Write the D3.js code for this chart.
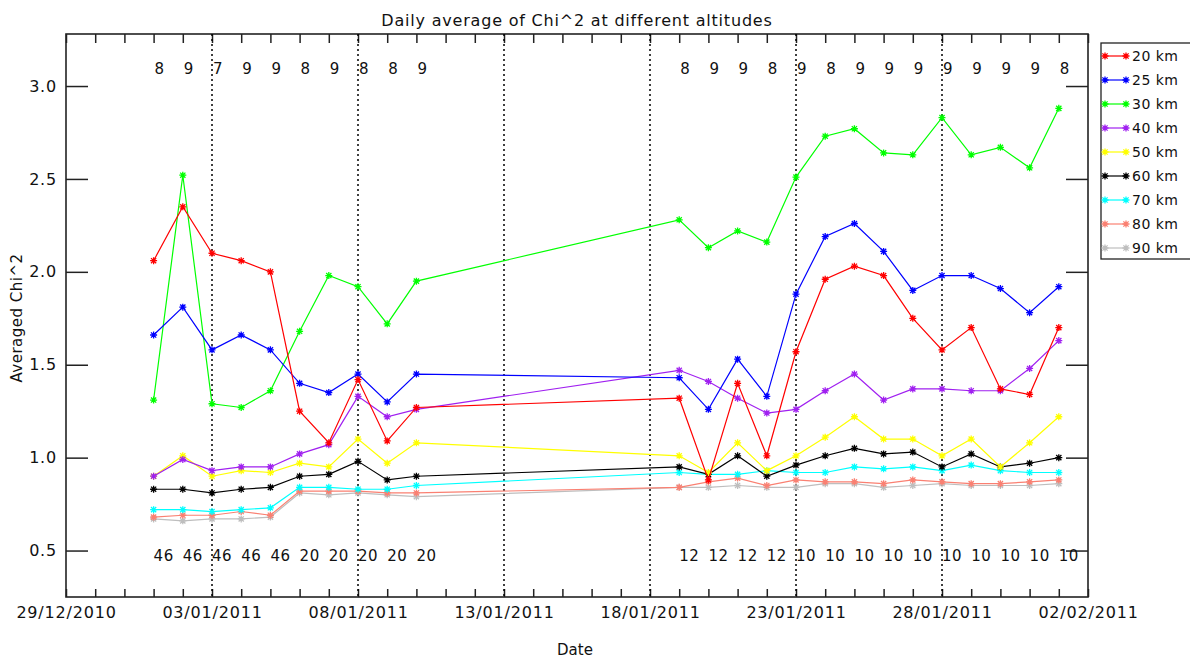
<!DOCTYPE html>
<meta charset="utf-8">
<style>
    body {
        margin: 0;
        background-color: #ffffff;
    }
    text {
        font-family: "DejaVu Sans", sans-serif;
        fill: #111;
    }
    .axis path.domain {
        display: none;
    }
    .axis line {
        stroke: #222;
        stroke-width: 1.5;
    }
    .axis text {
        font-size: 16px;
        letter-spacing: 0.8px;
    }
    path.series {
        fill: none;
        stroke-width: 1.2;
    }
    path.star {
        fill: none;
        stroke-width: 1.3;
    }
</style>
<body>
<script src="https://cdn.jsdelivr.net/npm/d3@7"></script>
<script>

    // observation days
    var dates = ["01/01/2011", "02/01/2011", "03/01/2011", "04/01/2011", "05/01/2011",
        "06/01/2011", "07/01/2011", "08/01/2011", "09/01/2011", "10/01/2011",
        "19/01/2011", "20/01/2011", "21/01/2011", "22/01/2011", "23/01/2011",
        "24/01/2011", "25/01/2011", "26/01/2011", "27/01/2011", "28/01/2011",
        "29/01/2011", "30/01/2011", "31/01/2011", "01/02/2011"];

    var altitudes = ["20 km", "25 km", "30 km", "40 km", "50 km", "60 km", "70 km", "80 km", "90 km"];
    var colors = ["#ff0000", "#0000ff", "#00ff00", "#a020f0", "#ffff00", "#000000", "#00ffff", "#fa8072", "#bebebe"];

    var chi20 = [2.06, 2.35, 2.10, 2.06, 2.00, 1.25, 1.08, 1.42, 1.09, 1.27, 1.32, 0.88, 1.40, 1.01, 1.57, 1.96, 2.03, 1.98, 1.75, 1.58, 1.70, 1.37, 1.34, 1.70];
    var chi25 = [1.66, 1.81, 1.58, 1.66, 1.58, 1.40, 1.35, 1.45, 1.30, 1.45, 1.43, 1.26, 1.53, 1.33, 1.88, 2.19, 2.26, 2.11, 1.90, 1.98, 1.98, 1.91, 1.78, 1.92];
    var chi30 = [1.31, 2.52, 1.29, 1.27, 1.36, 1.68, 1.98, 1.92, 1.72, 1.95, 2.28, 2.13, 2.22, 2.16, 2.51, 2.73, 2.77, 2.64, 2.63, 2.83, 2.63, 2.67, 2.56, 2.88];
    var chi40 = [0.90, 0.99, 0.93, 0.95, 0.95, 1.02, 1.07, 1.33, 1.22, 1.26, 1.47, 1.41, 1.32, 1.24, 1.26, 1.36, 1.45, 1.31, 1.37, 1.37, 1.36, 1.36, 1.48, 1.63];
    var chi50 = [0.90, 1.01, 0.90, 0.93, 0.92, 0.97, 0.95, 1.10, 0.97, 1.08, 1.01, 0.92, 1.08, 0.93, 1.01, 1.11, 1.22, 1.10, 1.10, 1.01, 1.10, 0.95, 1.08, 1.22];
    var chi60 = [0.83, 0.83, 0.81, 0.83, 0.84, 0.90, 0.91, 0.98, 0.88, 0.90, 0.95, 0.91, 1.01, 0.90, 0.96, 1.01, 1.05, 1.02, 1.03, 0.95, 1.02, 0.95, 0.97, 1.00];
    var chi70 = [0.72, 0.72, 0.71, 0.72, 0.73, 0.84, 0.84, 0.83, 0.83, 0.85, 0.92, 0.91, 0.91, 0.93, 0.92, 0.92, 0.95, 0.94, 0.95, 0.93, 0.96, 0.93, 0.92, 0.92];
    var chi80 = [0.68, 0.69, 0.69, 0.71, 0.69, 0.82, 0.82, 0.82, 0.81, 0.81, 0.84, 0.87, 0.89, 0.85, 0.88, 0.87, 0.87, 0.86, 0.88, 0.87, 0.86, 0.86, 0.87, 0.88];
    var chi90 = [0.67, 0.66, 0.67, 0.67, 0.68, 0.81, 0.80, 0.81, 0.80, 0.79, 0.84, 0.84, 0.85, 0.84, 0.84, 0.86, 0.86, 0.84, 0.85, 0.86, 0.85, 0.85, 0.85, 0.86];

    // numbers printed above and below each day
    var topCounts = [8, 9, 7, 9, 9, 8, 9, 8, 8, 9, 8, 9, 9, 8, 9, 8, 9, 9, 9, 9, 9, 9, 9, 8];
    var bottomCounts = [46, 46, 46, 46, 46, 20, 20, 20, 20, 20, 12, 12, 12, 12, 10, 10, 10, 10, 10, 10, 10, 10, 10, 10];

    var xTickLabels = ["29/12/2010", "03/01/2011", "08/01/2011", "13/01/2011", "18/01/2011", "23/01/2011", "28/01/2011", "02/02/2011"];
    var dottedDates = ["03/01/2011", "08/01/2011", "13/01/2011", "18/01/2011", "23/01/2011", "28/01/2011"];
    var yTicks = [0.5, 1.0, 1.5, 2.0, 2.5, 3.0];
    var yDomain = [0.25, 3.28];

    var series = [chi20, chi25, chi30, chi40, chi50, chi60, chi70, chi80, chi90];

    var parseDate = d3.timeParse("%d/%m/%Y");
    var days = dates.map(parseDate);

    var margin = {top: 34, left: 66},
            width = 1022,
            height = 563;

    var x = d3.scaleTime()
            .domain([parseDate(xTickLabels[0]), parseDate(xTickLabels[xTickLabels.length - 1])])
            .range([0, width]);

    var y = d3.scaleLinear()
            .domain(yDomain)
            .range([height, 0]);

    var svg = d3.select("body").append("svg")
            .attr("width", 1190)
            .attr("height", 660);

    var g = svg.append("g")
            .attr("transform", "translate(" + margin.left + "," + margin.top + ")");

    var dayTicks = d3.timeDay.range(x.domain()[0], d3.timeDay.offset(x.domain()[1], 1));
    var labelled = xTickLabels.map(function(s) { return +parseDate(s); });
    var fmt = d3.timeFormat("%d/%m/%Y");

    // axes
    g.append("g")
            .attr("class", "x axis")
            .attr("transform", "translate(0," + height + ")")
            .call(d3.axisBottom(x).tickValues(dayTicks).tickSizeInner(-8).tickSizeOuter(0).tickPadding(10)
                    .tickFormat(function(d) { return labelled.indexOf(+d) >= 0 ? fmt(d) : ""; }));

    g.append("g")
            .attr("class", "x axis")
            .call(d3.axisTop(x).tickValues(dayTicks).tickSizeInner(-9).tickSizeOuter(0).tickFormat(""));

    g.append("g")
            .attr("class", "y axis")
            .call(d3.axisLeft(y).tickValues(yTicks).tickSizeInner(-22).tickSizeOuter(0).tickPadding(9)
                    .tickFormat(d3.format(".1f")));

    g.append("g")
            .attr("class", "y axis")
            .attr("transform", "translate(" + width + ",0)")
            .call(d3.axisRight(y).tickValues(yTicks).tickSizeInner(-22).tickSizeOuter(0).tickFormat(""));

    g.append("rect")
            .attr("width", width)
            .attr("height", height)
            .attr("fill", "none")
            .attr("stroke", "#222")
            .attr("stroke-width", 1.6);

    // vertical dotted lines
    g.selectAll("line.dotted")
            .data(dottedDates.map(parseDate))
        .enter().append("line")
            .attr("class", "dotted")
            .attr("x1", function(d) { return x(d); })
            .attr("x2", function(d) { return x(d); })
            .attr("y1", 0)
            .attr("y2", height)
            .attr("stroke", "#000")
            .attr("stroke-width", 1.5)
            .attr("stroke-dasharray", "2,3");

    var line = d3.line()
            .x(function(d, i) { return x(days[i]); })
            .y(function(d) { return y(d); });

    var star = "M-3.5,0H3.5M0,-3.5V3.5M-2.6,-2.6L2.6,2.6M-2.6,2.6L2.6,-2.6";

    // draw from the highest altitude so that 20 km ends on top
    for (var k = series.length - 1; k >= 0; k--) {
        var s = g.append("g");
        s.append("path")
                .attr("class", "series")
                .attr("d", line(series[k]))
                .attr("stroke", colors[k]);
        s.selectAll("path.star")
                .data(series[k])
            .enter().append("path")
                .attr("class", "star")
                .attr("transform", function(d, i) { return "translate(" + x(days[i]) + "," + y(d) + ")"; })
                .attr("d", star)
                .attr("stroke", colors[k]);
    }

    // counts
    g.selectAll("text.top")
            .data(topCounts)
        .enter().append("text")
            .attr("class", "top")
            .attr("x", function(d, i) { return x(days[i]) + 1; })
            .attr("y", 34 + 6)
            .style("font-size", "15px")
            .text(function(d) { return d; });

    g.selectAll("text.bottom")
            .data(bottomCounts)
        .enter().append("text")
            .attr("class", "bottom")
            .attr("x", function(d, i) { return x(days[i]); })
            .attr("y", 521 + 6)
            .style("font-size", "15px")
            .style("letter-spacing", "0.5px")
            .text(function(d) { return d; });

    // titles
    svg.append("text")
            .attr("x", margin.left + width / 2)
            .attr("y", 26)
            .attr("text-anchor", "middle")
            .style("font-size", "16px")
            .style("letter-spacing", "0.8px")
            .text("Daily average of Chi^2 at different altitudes");

    svg.append("text")
            .attr("x", 575)
            .attr("y", 655)
            .attr("text-anchor", "middle")
            .style("font-size", "15px")
            .text("Date");

    svg.append("text")
            .attr("transform", "translate(22,318) rotate(-90)")
            .attr("text-anchor", "middle")
            .style("font-size", "15px")
            .style("letter-spacing", "0.5px")
            .text("Averaged Chi^2");

    // legend
    var legend = svg.append("g")
            .attr("transform", "translate(1101,43)");

    legend.append("rect")
            .attr("width", 95)
            .attr("height", 216)
            .attr("fill", "#fff")
            .attr("stroke", "#222")
            .attr("stroke-width", 1.3);

    var item = legend.selectAll("g.item")
            .data(altitudes)
        .enter().append("g")
            .attr("class", "item")
            .attr("transform", function(d, i) { return "translate(0," + (13 + i * 24) + ")"; });

    item.append("line")
            .attr("x1", 4)
            .attr("x2", 25)
            .attr("stroke", function(d, i) { return colors[i]; })
            .attr("stroke-width", 1.2);

    item.selectAll("path.star")
            .data(function(d, i) { return [[4, colors[i]], [25, colors[i]]]; })
        .enter().append("path")
            .attr("class", "star")
            .attr("transform", function(d) { return "translate(" + d[0] + ",0)"; })
            .attr("d", star)
            .attr("stroke", function(d) { return d[1]; });

    item.append("text")
            .attr("x", 31)
            .attr("y", 5)
            .style("font-size", "14px")
            .style("letter-spacing", "0.5px")
            .text(function(d) { return d; });

</script>
